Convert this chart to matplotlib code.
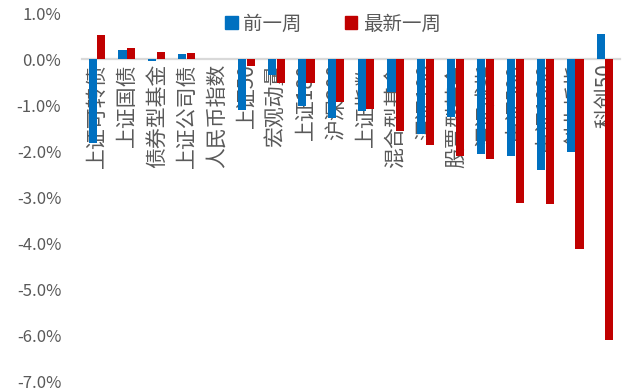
import matplotlib
matplotlib.use("Agg")
import matplotlib.pyplot as plt
import numpy as np
from matplotlib.patches import Patch

plt.rcParams['font.family'] = ['Noto Sans CJK SC', 'DejaVu Sans']

categories = ['上证可转债', '上证国债', '债券型基金', '上证公司债', '人民币指数', '上证50',
              '宏观动量', '上证180', '沪深300', '上证指数', '混合型基金', '深证100',
              '股票型基金', '深证成指', '中证500', '中证1000', '创业板指', '科创50']
prev_week = [-1.81, 0.19, -0.04, 0.12, 0.0, -1.11, -0.34, -1.01, -1.27, -1.12, -0.72, -1.63,
             -1.26, -2.06, -2.10, -2.40, -2.02, 0.55]
latest_week = [0.53, 0.25, 0.15, 0.13, 0.0, -0.14, -0.52, -0.51, -0.94, -1.08, -1.56, -1.87,
               -2.10, -2.17, -3.12, -3.14, -4.12, -6.10]
series_names = ['前一周', '最新一周']
y_ticks = [1, 0, -1, -2, -3, -4, -5, -6, -7]

BLUE = '#0070C0'
RED = '#C00000'
TEXT = '#595959'

W, H = 624, 392
fig = plt.figure(figsize=(W / 100, H / 100), dpi=100)
ax = fig.add_axes([82 / W, 10 / H, (620 - 82) / W, (382 - 13) / H])

x = np.arange(len(categories))
bw = 0.27
ax.bar(x - 0.145, prev_week, width=bw, color=BLUE, zorder=2)
ax.bar(x + 0.145, latest_week, width=bw, color=RED, zorder=2)

ax.set_xlim(-0.5, len(categories) - 0.5)
ax.set_ylim(-7, 1)

# y axis: percentage labels, no spine
ax.set_yticks(y_ticks)
ax.set_yticklabels([f'{v:.1f}%' for v in y_ticks], color=TEXT, fontsize=12,
                   fontweight='light')
ax.tick_params(axis='y', length=0, pad=15)

# x axis sits on the zero line with vertical category labels
ax.spines['bottom'].set_position(('data', 0))
ax.spines['bottom'].set_color('#D9D9D9')
ax.spines['bottom'].set_linewidth(1.6)
ax.spines['bottom'].set_zorder(1)
for s in ['top', 'right', 'left']:
    ax.spines[s].set_visible(False)
ax.set_xticks(x)
ax.set_xticklabels(categories, rotation=90, color=TEXT, fontsize=15, fontweight='light',
                   va='top', ha='center')
ax.tick_params(axis='x', length=0, pad=3)

handles = [Patch(color=BLUE, label=series_names[0]), Patch(color=RED, label=series_names[1])]
leg = fig.legend(handles=handles, loc='center', bbox_to_anchor=(333 / W, 1 - 24 / H), ncol=2,
                 frameon=False, fontsize=14, handlelength=0.65, handleheight=0.65,
                 handletextpad=0.3, columnspacing=2.2, labelcolor=TEXT)
for t in leg.get_texts():
    t.set_fontweight('light')

fig.savefig('out.png', dpi=100)
